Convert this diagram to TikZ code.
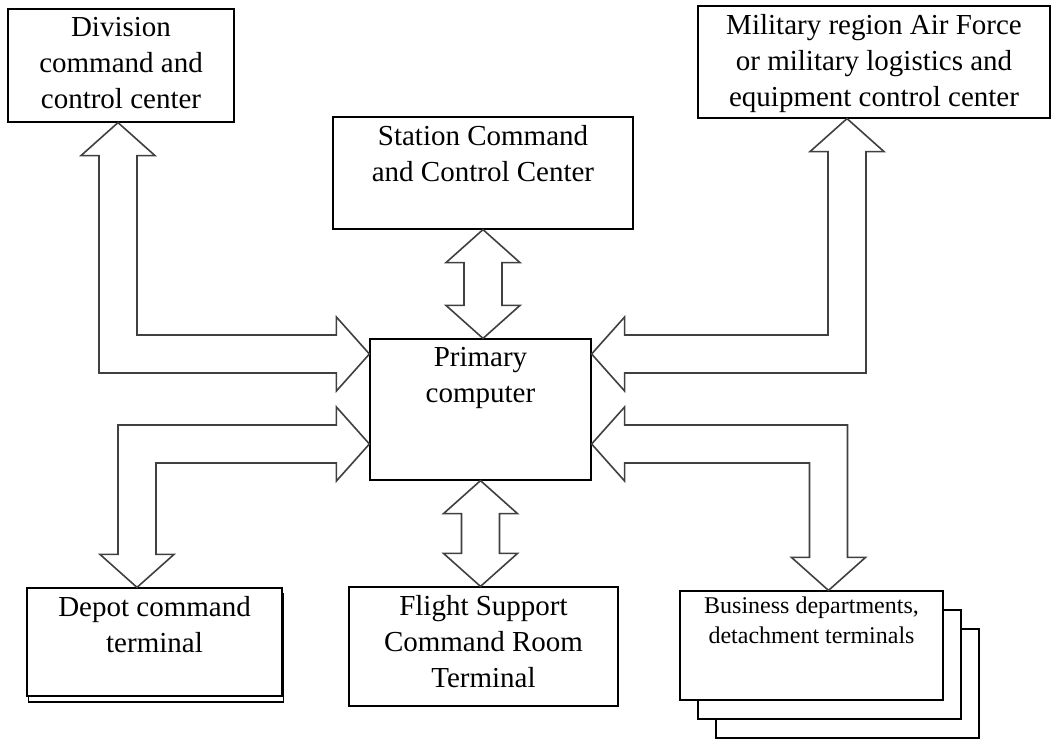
\documentclass[tikz,border=0pt]{standalone}
\usepackage{fontspec}
\setmainfont{Liberation Serif}
\usetikzlibrary{calc}

% block arrow sizes
\newcommand{\shaftw}{19pt}
\newcommand{\headw}{37pt}
\newcommand{\headl}{33pt}

% L-shaped double block arrow: vertical tip, horizontal tip, x-sign, y-sign
\newcommand{\bentlink}[4]{%
  \draw[blockarrow] let \p1=(#1), \p2=(#2) in
    (\x1,\y1) -- ({\x1+(#3)*\headw},{\y1+(#4)*\headl}) -- ({\x1+(#3)*\shaftw},{\y1+(#4)*\headl})
    -- ({\x1+(#3)*\shaftw},{\y2-(#4)*\shaftw}) -- ({\x2-(#3)*\headl},{\y2-(#4)*\shaftw})
    -- ({\x2-(#3)*\headl},{\y2-(#4)*\headw}) -- (\x2,\y2)
    -- ({\x2-(#3)*\headl},{\y2+(#4)*\headw}) -- ({\x2-(#3)*\headl},{\y2+(#4)*\shaftw})
    -- ({\x1-(#3)*\shaftw},{\y2+(#4)*\shaftw}) -- ({\x1-(#3)*\shaftw},{\y1+(#4)*\headl})
    -- ({\x1-(#3)*\headw},{\y1+(#4)*\headl}) -- cycle;}

% straight vertical double block arrow: top tip, bottom tip
\newcommand{\straightlink}[2]{%
  \draw[blockarrow] let \p1=(#1), \p2=(#2) in
    (\x1,\y1) -- ({\x1+\headw},{\y1-\headl}) -- ({\x1+\shaftw},{\y1-\headl})
    -- ({\x1+\shaftw},{\y2+\headl}) -- ({\x1+\headw},{\y2+\headl}) -- (\x1,\y2)
    -- ({\x1-\headw},{\y2+\headl}) -- ({\x1-\shaftw},{\y2+\headl})
    -- ({\x1-\shaftw},{\y1-\headl}) -- ({\x1-\headw},{\y1-\headl}) -- cycle;}

\begin{document}
\begin{tikzpicture}[x=1pt, y=-1pt,
    block/.style={draw, line width=1.2pt, fill=white, inner sep=0pt},
    txt/.style={anchor=north, align=center, inner sep=9pt, font=\fontsize{29pt}{36pt}\selectfont},
    smalltxt/.style={txt, inner sep=6pt, font=\fontsize{24pt}{30pt}\selectfont},
    blockarrow/.style={draw=black!75, line width=1.6pt, fill=white, line join=miter}
]
\useasboundingbox (0,0) rectangle (1052,740);

% top row
\node[block, minimum width=226pt, minimum height=113pt,
      label={[txt]north:{Division\\command and\\control center}}] (div) at (121,65.5) {};
\node[block, minimum width=300pt, minimum height=112pt,
      label={[txt]north:{Station Command\\and Control Center}}] (stn) at (483,173) {};
\node[block, minimum width=352pt, minimum height=112pt,
      label={[txt]north:{Military region Air Force\\or military logistics and\\equipment control center}}] (mil) at (874,62) {};

% centre
\node[block, minimum width=221pt, minimum height=141pt,
      label={[txt]north:{Primary\\computer}}] (pc) at (480.5,409.5) {};

% bottom row
\node[block, minimum width=255pt, minimum height=108pt] (depot-s) at (156,648) {};
\node[block, minimum width=255pt, minimum height=108pt,
      label={[txt]north:{Depot command\\terminal}}] (depot) at (154.5,642) {};
\node[block, minimum width=269pt, minimum height=119pt,
      label={[txt]north:{Flight Support\\Command Room\\Terminal}}] (flt) at (483.5,646.5) {};
\node[block, minimum width=263pt, minimum height=109pt] (bus3) at (847.5,683.5) {};
\node[block, minimum width=263pt, minimum height=109pt] (bus2) at (829.5,664.5) {};
\node[block, minimum width=263pt, minimum height=109pt,
      label={[smalltxt]north:{Business departments,\\detachment terminals}}] (bus) at (811.5,645.5) {};

% links
\bentlink{[xshift=-3pt]div.south}{[yshift=55.5pt]pc.west}{1}{-1}
\bentlink{[xshift=-17.5pt]depot.north}{[yshift=-34.5pt]pc.west}{1}{1}
\bentlink{[xshift=-27pt]mil.south}{[yshift=55.5pt]pc.east}{-1}{-1}
\bentlink{[xshift=17pt]bus.north}{[yshift=-34.5pt]pc.east}{-1}{1}
\straightlink{stn.south}{pc.north}
\straightlink{pc.south}{flt.north}
\end{tikzpicture}
\end{document}
